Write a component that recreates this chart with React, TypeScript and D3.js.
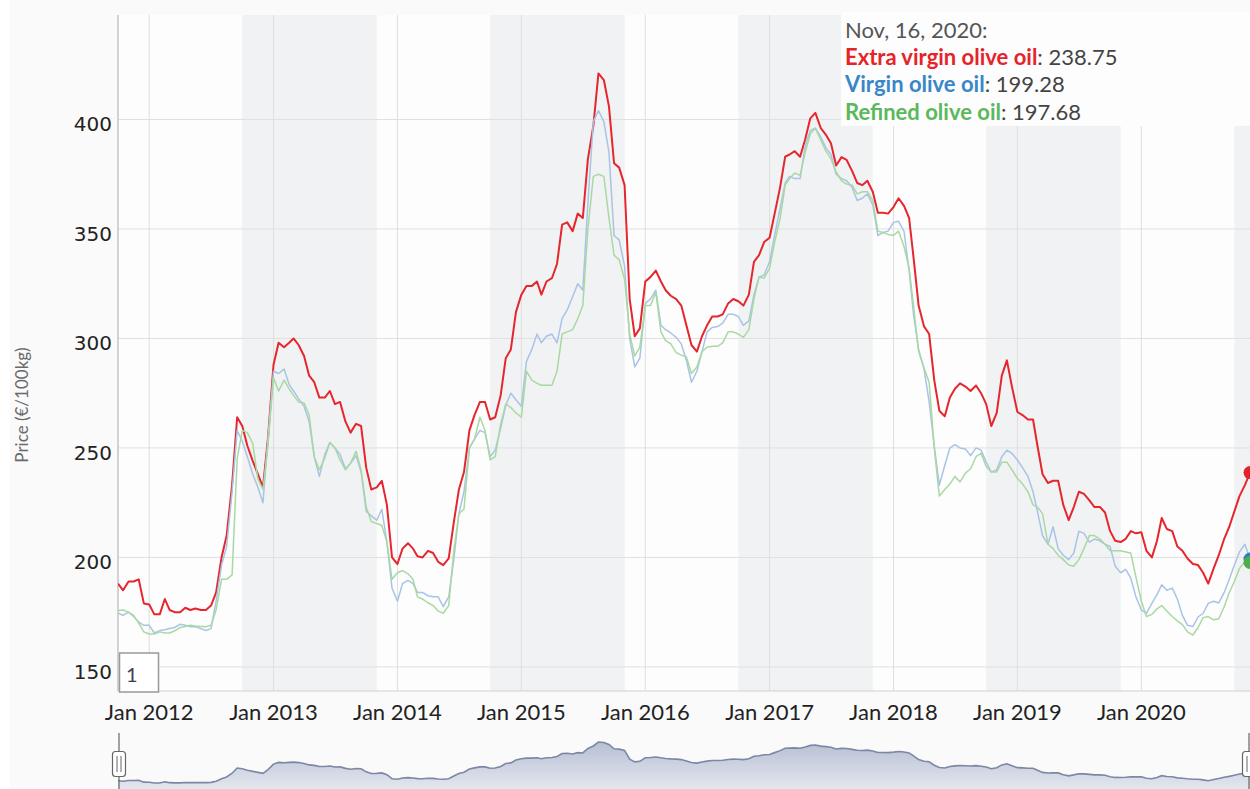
import React from 'react'
import * as d3 from 'd3'

// Prices in €/100kg, sampled on the 1st and 16th of each month, Oct 1 2011 .. Nov 16 2020
const extraVirgin = [
  188, 185, 189, 189, 190, 179,
  178.5, 174, 174, 181, 176, 175, 175, 177, 176, 176.7, 176, 176, 178, 184, 200, 210, 233, 264, 260, 251, 244, 238, 232, 255,
  288, 298, 296, 298, 300, 297, 292, 283, 280, 273, 273, 276, 270, 271, 262, 257, 261, 260, 241, 231, 232, 235, 224, 200,
  197, 204, 206.5, 204, 200.5, 200, 203, 202, 198, 196.5, 199.6, 216, 231, 239, 258, 265, 271, 271, 263, 264, 274, 291, 295, 312,
  320, 324, 324, 326, 320, 326, 327.5, 334, 352, 353, 349, 357, 355, 382, 397, 421, 418, 406, 380, 378, 370, 318, 301, 304.6,
  326, 328, 331, 326, 322, 319.5, 318, 315, 306, 297, 294, 301, 306, 310, 310, 311, 316, 318, 317, 315, 320, 335, 338, 344,
  346, 357, 369, 383, 384, 385.5, 383, 391, 400.5, 403, 396, 393, 389, 379, 382.8, 381.5, 376.5, 371, 370, 372, 367, 357.4, 357.4, 357,
  360, 364, 360.5, 355, 337, 315, 305.5, 302, 281, 267, 264.5, 273, 277, 279.5, 278, 276, 278.5, 275, 270, 260, 266, 283, 290, 277.8,
  266.4, 265, 263, 263, 251, 238, 234, 235, 235, 224, 217, 223, 230, 229, 226, 223, 223, 220.5, 212, 207.6, 207, 208.5, 212, 211,
  211.5, 203, 200, 207.5, 218, 213, 212, 205, 203, 199.5, 197, 196.5, 193, 188, 195, 201, 208.5, 214, 221, 228, 233, 238.75
]

const virgin = [
  174.6, 173.5, 175, 173, 170.5, 169,
  169, 165.5, 166.6, 167, 167.5, 168, 169.5, 169, 168.3, 168.3, 167.5, 166.6, 167.5, 180, 196.5, 205, 230, 258, 253, 246, 238, 232, 225, 255,
  285, 284, 286, 279, 276, 272.5, 269, 262, 246, 237, 247, 252.5, 250, 247, 240.5, 243, 246.5, 239, 221, 219, 217, 222, 207, 186,
  180, 188, 189.5, 188, 184, 184, 182.5, 182, 182, 177.5, 182, 199, 220, 230, 250, 254, 258, 257, 246, 249, 259, 269.5, 275, 272,
  269, 289.5, 295, 302, 298, 301, 302, 298, 309, 313, 319, 325, 322, 362, 399, 404, 399, 385, 347, 345, 333, 300, 287, 291,
  316, 318, 322, 306, 304, 302.5, 300.5, 297.5, 290, 280, 285, 294, 303, 305, 305.4, 307, 311, 311, 310, 306, 308, 320, 328, 329,
  335, 347, 359.5, 371, 374, 373, 373, 388, 395, 396, 392, 387, 384, 375, 373, 372, 369, 363, 364, 366, 361, 347, 348.4, 349,
  353, 353.5, 349, 331, 311, 295, 286, 271, 251, 233, 242, 250, 251.5, 250, 249.5, 246.5, 250, 249, 243.5, 239, 240, 246, 249, 247.5,
  244.5, 241, 237, 230, 221, 210, 206, 214, 204, 201, 199, 202, 212, 211, 207, 208.4, 207.6, 206, 205, 196, 193, 194.5, 190.5, 182,
  176, 174.5, 179, 183, 187.5, 185, 186, 181, 173.5, 169, 168.5, 172.8, 174.5, 179, 180, 179.2, 184, 190, 196.5, 202.5, 206, 199.28
]

const refined = [
  175.8, 176, 175, 173.5, 170, 166,
  165, 165, 166, 165.5, 165.5, 166.5, 168, 168.5, 169, 168.7, 168.5, 168.3, 169, 176, 190, 190, 192, 245, 258, 257, 252, 235.6, 231, 252,
  282, 276, 281, 277, 274, 271, 270.5, 265, 246, 240, 245.4, 252.5, 250, 244.5, 240, 243, 248.5, 240, 223, 216.4, 215.5, 214.6, 207, 190,
  193, 194, 192.5, 190, 182, 181, 179.3, 178, 175.5, 174.5, 178, 203, 220, 222, 250, 254, 264, 258, 244.5, 246, 261, 270, 268.5, 266,
  264, 285, 281, 279.5, 278.6, 278.6, 278.6, 285, 302, 303, 304, 309, 315, 350, 374, 375, 374, 355, 338, 336, 327, 302, 292, 296,
  315, 315, 321, 303, 299, 297.5, 293.5, 292.4, 291.5, 284, 287, 294, 296, 296.4, 296.4, 298, 303, 303, 302, 300.5, 304, 318, 328, 327.5,
  332, 344, 354.6, 370, 373, 375.5, 374.5, 385, 393.5, 396, 390.5, 385.5, 382, 376, 372, 370.5, 370, 366, 367, 367, 363, 349, 348.4, 347.5,
  347, 349, 342, 332, 315, 294, 286.5, 280, 250, 228, 231, 233.5, 237, 234.5, 238.5, 240.5, 246, 247.5, 241.5, 239, 239, 243.5, 243.5, 240,
  236, 233.6, 230, 224, 223, 220, 206, 204, 201, 199, 196.5, 196, 199, 204, 210, 210, 208.4, 206, 203, 203, 203, 202.5, 202, 191,
  180, 173, 174, 176.5, 178, 175.5, 173, 171, 169.3, 166, 164.5, 168, 172.5, 173, 171.5, 172, 177.5, 184, 189, 195, 198, 197.68
]

const seriesNames = ['Extra virgin olive oil', 'Virgin olive oil', 'Refined olive oil']
const yTicks = [150, 200, 250, 300, 350, 400]
const yearTicks = [2012, 2013, 2014, 2015, 2016, 2017, 2018, 2019, 2020]
// shaded campaign bands
const bandStarts = ['2012-10-01', '2014-10-01', '2016-10-01', '2018-10-01', '2020-10-01']
const bandEnds = ['2013-11-01', '2015-11-01', '2017-11-01', '2019-11-01', '2021-11-01']

const COLORS = { red: '#e5262d', blue: '#a8c4e5', green: '#a9d9a2' }
const W = 1250
const H = 789
const plotL = 118
const plotR = 1250
const plotT = 15
const plotB = 691

function buildDates(n: number) {
  const out: Date[] = []
  let yr = 2011
  let m = 9
  while (out.length < n) {
    out.push(new Date(yr, m, 1))
    if (out.length < n) out.push(new Date(yr, m, 16))
    m++
    if (m > 11) { m = 0; yr++ }
  }
  return out
}

const parseDay = (s: string) => {
  const [a, b, c] = s.split('-').map(Number)
  return new Date(a, b - 1, c)
}

export default function App() {
  const dates = buildDates(extraVirgin.length)
  const x = d3.scaleTime().domain([dates[0], dates[dates.length - 1]]).range([plotL, plotR])
  const y = d3.scaleLinear().domain([139, 447.7]).range([plotB, plotT])

  const line = (vals: number[]) =>
    d3.line<number>().x((_, i) => x(dates[i])).y((d) => y(d))(vals) as string

  // navigator (shows the first series)
  const navY = d3.scaleLinear()
    .domain([d3.min(extraVirgin) as number, d3.max(extraVirgin) as number])
    .range([783, 742])
  const navArea = d3.area<number>().x((_, i) => x(dates[i])).y0(800).y1((d) => navY(d))(extraVirgin) as string
  const navLine = d3.line<number>().x((_, i) => x(dates[i])).y((d) => navY(d))(extraVirgin) as string

  const last = dates.length - 1
  const xl = x(dates[last])

  const handle = (hx: number) => (
    <g>
      <line x1={hx} x2={hx} y1={733} y2={H} stroke="#666" strokeWidth={1.2} />
      <rect x={hx - 6.5} y={751.5} width={13} height={25} rx={3} fill="#fff" stroke="#666" strokeWidth={1.2} />
      <line x1={hx - 2} x2={hx - 2} y1={756} y2={772} stroke="#666" strokeWidth={1} />
      <line x1={hx + 2} x2={hx + 2} y1={756} y2={772} stroke="#666" strokeWidth={1} />
    </g>
  )

  return (
    <div style={{ position: 'absolute', left: 0, top: 0, width: W, height: H, overflow: 'hidden' }}>
      <svg width={W} height={H} style={{ display: 'block' }}>
        <defs>
          <clipPath id="plotClip">
            <rect x={plotL} y={plotT} width={plotR - plotL} height={plotB - plotT} />
          </clipPath>
          <linearGradient id="navFill" x1="0" y1="0" x2="0" y2="1">
            <stop offset="0%" stopColor="#b7bfd3" />
            <stop offset="100%" stopColor="#eef0f5" />
          </linearGradient>
        </defs>
        <rect x={0} y={0} width={W} height={H} fill="#ffffff" />
        <rect x={10} y={0} width={W - 10} height={H} fill="#fafafa" />
        <rect x={plotL} y={plotT} width={plotR - plotL} height={plotB - plotT} fill="#fdfdfd" />

        {bandStarts.map((s, i) => {
          const x0 = Math.max(plotL, x(parseDay(s)))
          const x1 = Math.min(plotR, x(parseDay(bandEnds[i])))
          return <rect key={s} x={x0} y={plotT} width={Math.max(0, x1 - x0)} height={plotB - plotT} fill="#f1f2f4" />
        })}

        {yTicks.map((t) => (
          <line key={t} x1={plotL} x2={plotR} y1={y(t)} y2={y(t)} stroke="#e0e0e0" strokeWidth={1} />
        ))}
        {yearTicks.map((yr) => (
          <line key={yr} x1={x(new Date(yr, 0, 1))} x2={x(new Date(yr, 0, 1))} y1={plotT} y2={plotB} stroke="#dedede" strokeWidth={1} />
        ))}

        <line x1={plotL} x2={plotL} y1={plotT} y2={plotB} stroke="#c4c4c4" strokeWidth={1.5} />
        <line x1={plotL} x2={plotR} y1={plotB} y2={plotB} stroke="#d0d0d0" strokeWidth={1} />

        {yTicks.map((t) => (
          <text key={t} x={112} y={y(t) + 12} textAnchor="end" fontFamily="DejaVu Sans" fontSize={20} fill="#222">
            {t}
          </text>
        ))}
        {yearTicks.map((yr) => (
          <text key={yr} x={x(new Date(yr, 0, 1))} y={720} textAnchor="middle" fontFamily="Lato" fontSize={22} fill="#222">
            {`Jan ${yr}`}
          </text>
        ))}

        <text transform="translate(28,405) rotate(-90)" textAnchor="middle" fontFamily="Lato" fontSize={17} fill="#6a6a6a">
          Price (€/100kg)
        </text>

        <g clipPath="url(#plotClip)">
          <path d={line(extraVirgin)} fill="none" stroke={COLORS.red} strokeWidth={2} strokeLinejoin="round" />
          <path d={line(virgin)} fill="none" stroke={COLORS.blue} strokeWidth={1.5} strokeLinejoin="round" />
          <path d={line(refined)} fill="none" stroke={COLORS.green} strokeWidth={1.5} strokeLinejoin="round" />
        </g>
        <circle cx={xl} cy={y(extraVirgin[last])} r={6.5} fill="#e3232b" />
        <circle cx={xl} cy={y(virgin[last])} r={6.5} fill="#2f7bc4" />
        <circle cx={xl} cy={y(refined[last])} r={6.5} fill="#4cae4c" />

        {/* tooltip */}
        <rect x={841} y={12} width={W - 841} height={114} fill="#fdfdfd" />
        <text x={845} y={38} fontFamily="Lato" fontSize={22} fill="#555">Nov, 16, 2020:</text>
        {[
          { c: '#e5232b', v: extraVirgin[last] },
          { c: '#3a86c8', v: virgin[last] },
          { c: '#5cb85c', v: refined[last] }
        ].map((s, i) => (
          <text key={i} x={845} y={64.5 + i * 27.5} fontFamily="Lato" fontSize={22} fill="#444">
            <tspan fontWeight="bold" fill={s.c}>{seriesNames[i]}</tspan>
            <tspan>: {s.v.toFixed(2)}</tspan>
          </text>
        ))}

        {/* range input box */}
        <rect x={119.5} y={653} width={39} height={39} fill="#fff" stroke="#999" strokeWidth={1.5} />
        <text x={126} y={682} fontFamily="Lato" fontSize={20} fill="#3a4050">1</text>

        {/* navigator */}
        <path d={navArea} fill="url(#navFill)" />
        <path d={navLine} fill="none" stroke="#7b87a5" strokeWidth={1.6} />
        {handle(plotL + 1)}
        {handle(plotR - 1)}
      </svg>
    </div>
  )
}
